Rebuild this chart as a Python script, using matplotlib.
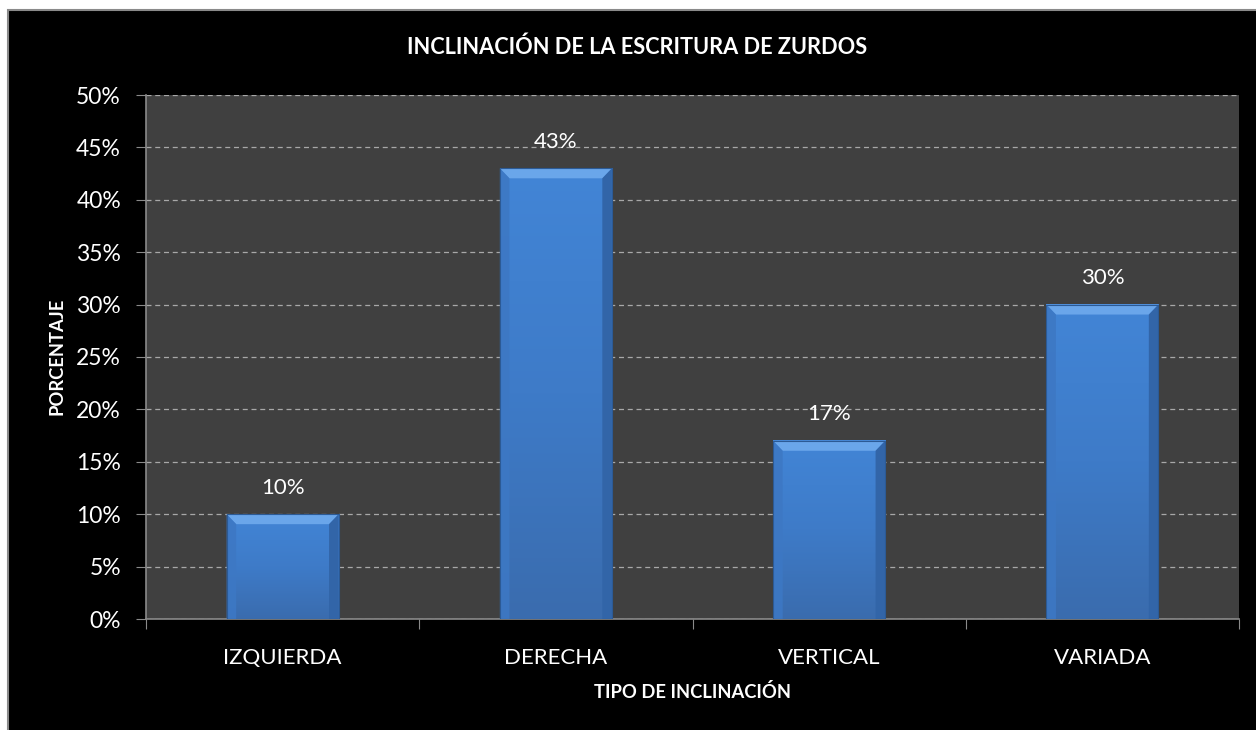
import matplotlib
matplotlib.use("Agg")
import matplotlib.pyplot as plt
import numpy as np
from matplotlib.patches import Rectangle, Polygon
from matplotlib.ticker import FuncFormatter, MultipleLocator
from matplotlib.colors import LinearSegmentedColormap

categories = ["IZQUIERDA", "DERECHA", "VERTICAL", "VARIADA"]
values = [0.10, 0.43, 0.17, 0.30]
labels = ["10%", "43%", "17%", "30%"]
title = "INCLINACIÓN DE LA ESCRITURA DE ZURDOS"
xlabel = "TIPO DE INCLINACIÓN"
ylabel = "PORCENTAJE"

plt.rcParams['font.family'] = ['Lato', 'DejaVu Sans']

W, H = 1256, 730
fig = plt.figure(figsize=(W / 100, H / 100), dpi=100, facecolor="white")
# chart frame
fig.patches.append(Rectangle((8 / W, -0.01), 1.02, 1 - 10 / H + 0.01, transform=fig.transFigure,
                             facecolor="black", edgecolor="#8a8a8a", linewidth=1.5, zorder=-5))

ax = fig.add_axes([146 / W, 1 - 619 / H, (1239 - 146) / W, (619 - 95) / H])
ax.set_zorder(2)
ax.set_facecolor("#404040")
x = np.arange(len(categories))
bars = ax.bar(x, values, width=0.41, color="#3f7fd0", zorder=3)

grad = np.linspace(0, 1, 256).reshape(-1, 1)
cmap = LinearSegmentedColormap.from_list("b", ["#3a6cae", "#3e7bc8", "#4285d6"])
dx = 0.035
dy = 0.0095
for b in bars:
    x0, w, h = b.get_x(), b.get_width(), b.get_height()
    b.set_facecolor("none")
    ax.imshow(grad, extent=(x0, x0 + w, 0, h), origin="lower", cmap=cmap,
              aspect="auto", zorder=3)
    ax.add_patch(Polygon([(x0, h), (x0 + w, h), (x0 + w - dx, h - dy), (x0 + dx, h - dy)],
                         closed=True, facecolor="#6aa6ea", edgecolor="none", zorder=4))
    ax.add_patch(Polygon([(x0, h), (x0 + dx, h - dy), (x0 + dx, 0), (x0, 0)],
                         closed=True, facecolor="#3d78c4", edgecolor="none", zorder=4, alpha=0.9))
    ax.add_patch(Polygon([(x0 + w, h), (x0 + w - dx, h - dy), (x0 + w - dx, 0), (x0 + w, 0)],
                         closed=True, facecolor="#3265a8", edgecolor="none", zorder=4))
    ax.add_patch(Rectangle((x0, 0), w, h, facecolor="none", edgecolor="#2c5a95",
                           linewidth=0.8, zorder=5))
ax.set_xlim(-0.5, len(categories) - 0.5)
ax.set_ylim(0, 0.5)

for xi, v, lab in zip(x, values, labels):
    ax.annotate(lab, (xi, v), xytext=(0, 12), textcoords="offset points", ha="center",
                va="bottom", color="white", fontsize=16)

ax.yaxis.set_major_locator(MultipleLocator(0.05))
ax.yaxis.set_major_formatter(FuncFormatter(lambda v, p: f"{round(v * 100)}%"))
ax.grid(axis="y", color="#a8a8a8", linestyle=(0, (4, 3)), linewidth=0.9, zorder=1)
ax.set_axisbelow(True)

ax.set_xticks(np.arange(-0.5, len(categories) + 0.5, 1.0))
ax.set_xticklabels([])
ax.set_xticks(x, minor=True)
ax.set_xticklabels(categories, minor=True)
ax.tick_params(axis="x", which="minor", length=0, pad=21, labelcolor="white", labelsize=16)
ax.tick_params(axis="x", which="major", length=7, color="#8a8a8a", direction="out")
ax.tick_params(axis="y", length=7, color="#8a8a8a", direction="out", labelcolor="white",
               labelsize=16.5, pad=11)

for s in ["top", "right"]:
    ax.spines[s].set_visible(False)
for s in ["left", "bottom"]:
    ax.spines[s].set_color("#8a8a8a")
    ax.spines[s].set_linewidth(1.2)

fig.text(637 / W, 1 - 47 / H, title, ha="center", va="center", color="white",
         fontsize=15.7, fontweight="bold")
fig.text(692 / W, 1 - 692 / H, xlabel, ha="center", va="center", color="white",
         fontsize=13.2, fontweight="bold")
fig.text(57 / W, 1 - 356 / H, ylabel, ha="center", va="center", color="white",
         fontsize=13.2, fontweight="bold", rotation=90)

fig.savefig("out.png", dpi=100, facecolor=fig.get_facecolor())
